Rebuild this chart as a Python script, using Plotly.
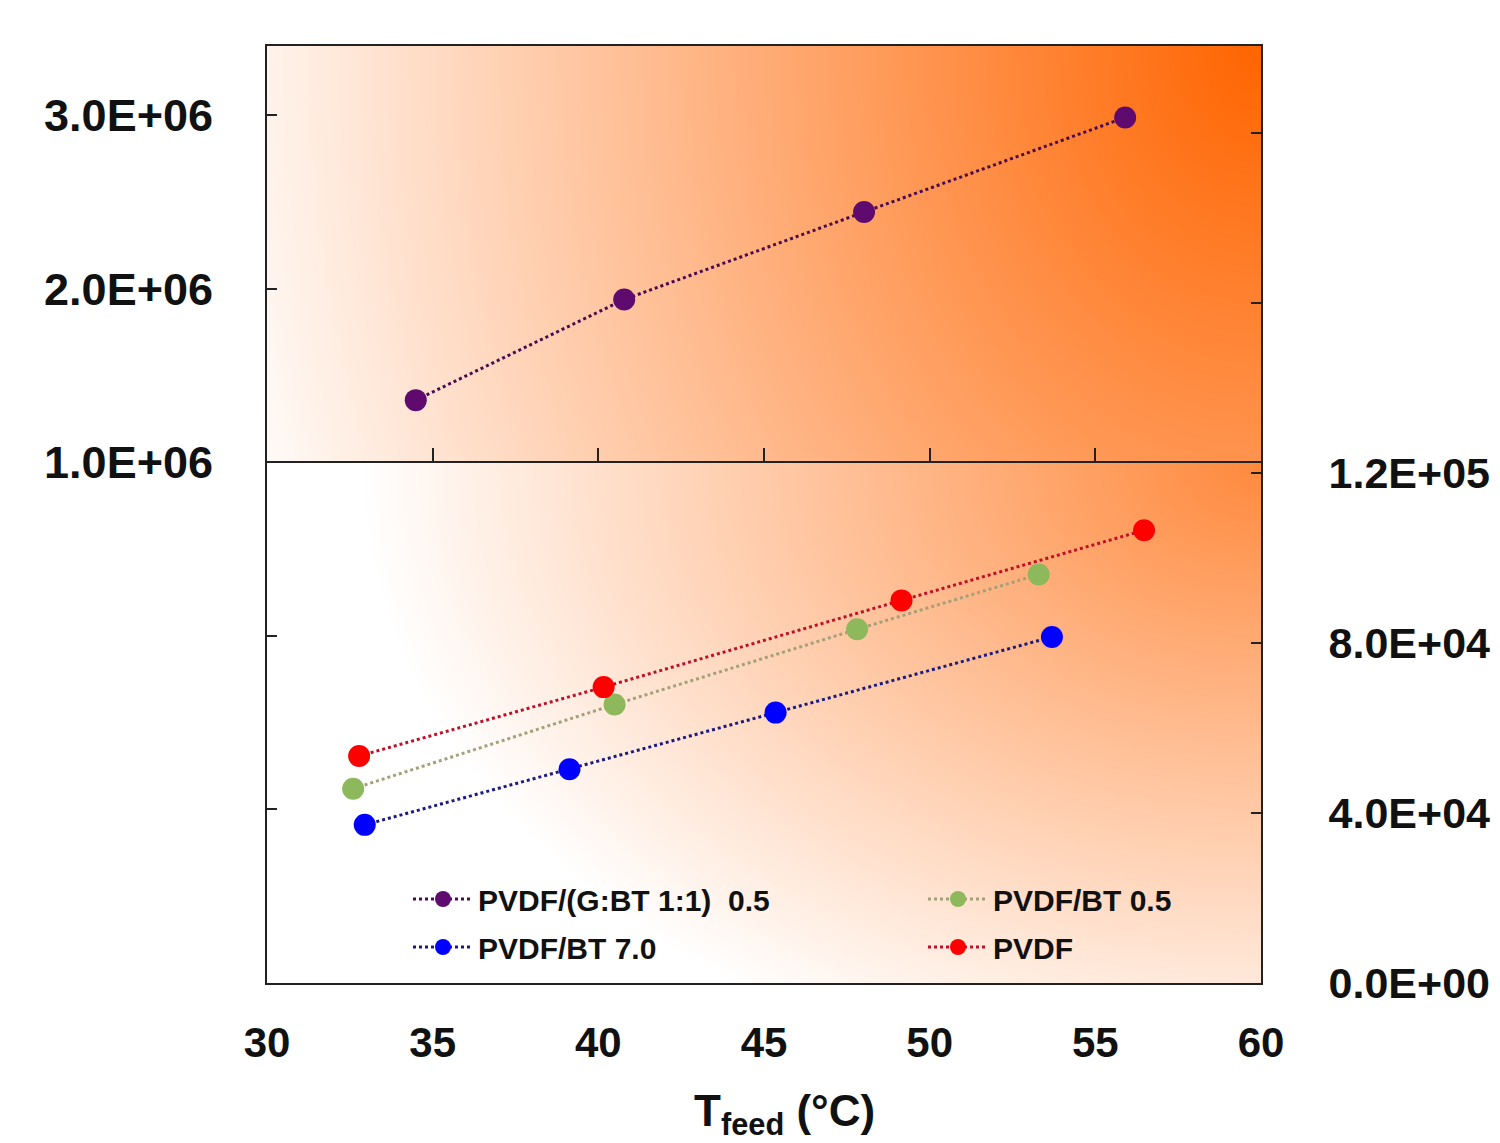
import numpy as np
import plotly.graph_objects as go

# ---- data ----
x_gbt = [34.49, 40.78, 48.02, 55.90]
y_gbt = [1.359e6, 1.939e6, 2.443e6, 2.988e6]

x_bt05 = [32.60, 40.49, 47.81, 53.29]
y_bt05 = [45.7e3, 65.5e3, 83.2e3, 96.1e3]

x_bt70 = [32.95, 39.13, 45.35, 53.69]
y_bt70 = [37.2e3, 50.3e3, 63.6e3, 81.4e3]

x_pvdf = [32.78, 40.16, 49.15, 56.47]
y_pvdf = [53.4e3, 69.6e3, 90.0e3, 106.5e3]

x_ticks = [30, 35, 40, 45, 50, 55, 60]
mid_ticks = [35, 40, 45, 50, 55]
left_tickvals = [-1e6, 0, 1e6, 2e6, 3e6]
left_ticktext = ["", "", "1.0E+06", "2.0E+06", "3.0E+06"]
right_tickvals = [0, 4e4, 8e4, 1.2e5, 1.6e5, 2.0e5]
right_ticktext = ["0.0E+00", "4.0E+04", "8.0E+04", "1.2E+05", "", ""]

XR = [30, 60]
YL = [-2.0e6, 3.4e6]
YR = [0, 2.204e5]
Y_SPLIT = 1.0e6

FONT = "Liberation Sans, Arial, sans-serif"
AX = "#222222"

# plot-area geometry (px)
L, T, W, H = 259, 38, 994, 937

fig = go.Figure()

# ---- background gradient: top panel + bottom panel, both from their top-right ----
gx = np.linspace(XR[0], XR[1], 120)
gy = np.linspace(YL[0], YL[1], 300)
GX, GY = np.meshgrid(gx, gy)
px_per_y = H / (YL[1] - YL[0])
dx = (XR[1] - GX) / (XR[1] - XR[0]) * W
dy_top = (YL[1] - GY) * px_per_y
dy_bot = (Y_SPLIT - GY) * px_per_y
d_top = np.sqrt(dx**2 + (0.8 * dy_top) ** 2) / 1080.0
d_bot = 0.24 + 0.76 * np.sqrt(dx**2 + (1.4 * dy_bot) ** 2) / 900.0
D = np.clip(np.where(GY >= Y_SPLIT, d_top, d_bot), 0, 1)
fig.add_trace(go.Heatmap(
    x=gx, y=gy, z=D, zmin=0, zmax=1, zsmooth="best",
    colorscale=[[0, "#FF6400"], [1, "#FFFFFF"]],
    showscale=False, hoverinfo="skip", showlegend=False,
    xaxis="x", yaxis="y",
))

# invisible helper so the middle x-axis (divider with ticks) is rendered
fig.add_trace(go.Scatter(
    x=[45], y=[None], xaxis="x2", yaxis="y", mode="markers",
    showlegend=False, hoverinfo="skip",
))

fig.add_trace(go.Scatter(
    x=x_gbt, y=y_gbt, name="PVDF/(G:BT 1:1)\u00a0\u00a00.5",
    marker=dict(size=22, color="#5E0A6E"), line=dict(dash="dot", width=3, color="#4A0A50"),
    mode="lines+markers", xaxis="x", yaxis="y", legend="legend", legendgroup="a",
))
fig.add_trace(go.Scatter(
    x=x_bt70, y=y_bt70, name="PVDF/BT 7.0",
    marker=dict(size=22, color="#0000FF"), line=dict(dash="dot", width=3, color="#1A1A80"),
    mode="lines+markers", xaxis="x", yaxis="y2", legend="legend", legendgroup="b",
))
fig.add_trace(go.Scatter(
    x=x_bt05, y=y_bt05, name="PVDF/BT 0.5",
    marker=dict(size=22, color="#8DB85C"), line=dict(dash="dot", width=3, color="#A3A07A"),
    mode="lines+markers", xaxis="x", yaxis="y2", legend="legend2", legendgroup="c",
))
fig.add_trace(go.Scatter(
    x=x_pvdf, y=y_pvdf, name="PVDF",
    marker=dict(size=22, color="#FF0000"), line=dict(dash="dot", width=3, color="#C01028"),
    mode="lines+markers", xaxis="x", yaxis="y2", legend="legend2", legendgroup="d",
))

xtickfont = dict(family=FONT, size=42, color="#111111", weight="bold")
ltickfont = dict(family=FONT, size=45, color="#111111", weight="bold")
rtickfont = dict(family=FONT, size=43, color="#111111", weight="bold")
legfont = dict(family=FONT, size=30, color="#111111", weight="bold")

fig.update_layout(
    width=1500, height=1143,
    margin=dict(l=L, r=1500 - L - W, t=T, b=1143 - T - H),
    paper_bgcolor="white", plot_bgcolor="white",
    font=dict(family=FONT, weight="bold"),
    xaxis=dict(
        range=XR, tickvals=x_ticks, ticks="", showgrid=False, zeroline=False,
        showline=True, linecolor=AX, linewidth=2, mirror=True,
        tickfont=xtickfont, ticklabelstandoff=22,
    ),
    xaxis2=dict(
        range=XR, overlaying="x", anchor="free",
        position=(Y_SPLIT - YL[0]) / (YL[1] - YL[0]),
        side="top", tickvals=mid_ticks, ticks="outside", ticklen=13,
        tickwidth=2, tickcolor=AX, showticklabels=False, showgrid=False,
        zeroline=False, showline=True, linecolor=AX, linewidth=2,
    ),
    yaxis=dict(
        range=YL, tickvals=left_tickvals, ticktext=left_ticktext, ticks="inside",
        ticklen=10, tickwidth=2, tickcolor=AX, showgrid=False, zeroline=False,
        showline=True, linecolor=AX, linewidth=2, tickfont=ltickfont,
        ticklabelstandoff=43,
    ),
    yaxis2=dict(
        range=YR, overlaying="y", side="right", anchor="x", tickvals=right_tickvals,
        ticktext=right_ticktext, ticks="inside", ticklen=10, tickwidth=2,
        tickcolor=AX, showgrid=False, zeroline=False, showline=True,
        linecolor=AX, linewidth=2, tickfont=rtickfont, ticklabelstandoff=57,
    ),
    legend=dict(
        x=(400 - L) / W, y=(T + H - 865) / H, xanchor="left", yanchor="top",
        bgcolor="rgba(0,0,0,0)", font=legfont, itemwidth=60, tracegroupgap=6,
        itemsizing="trace",
    ),
    legend2=dict(
        x=(915 - L) / W, y=(T + H - 865) / H, xanchor="left", yanchor="top",
        bgcolor="rgba(0,0,0,0)", font=legfont, itemwidth=60, tracegroupgap=6,
        itemsizing="trace",
    ),
    annotations=[dict(
        text="T<sub>feed</sub> (°C)", xref="paper", yref="paper",
        x=(776 - L) / W, y=(T + H - 1106) / H, xanchor="center", yanchor="middle",
        showarrow=False, font=dict(family=FONT, size=44, color="#111111", weight="bold"),
    )],
)

fig.write_html("out.html")
